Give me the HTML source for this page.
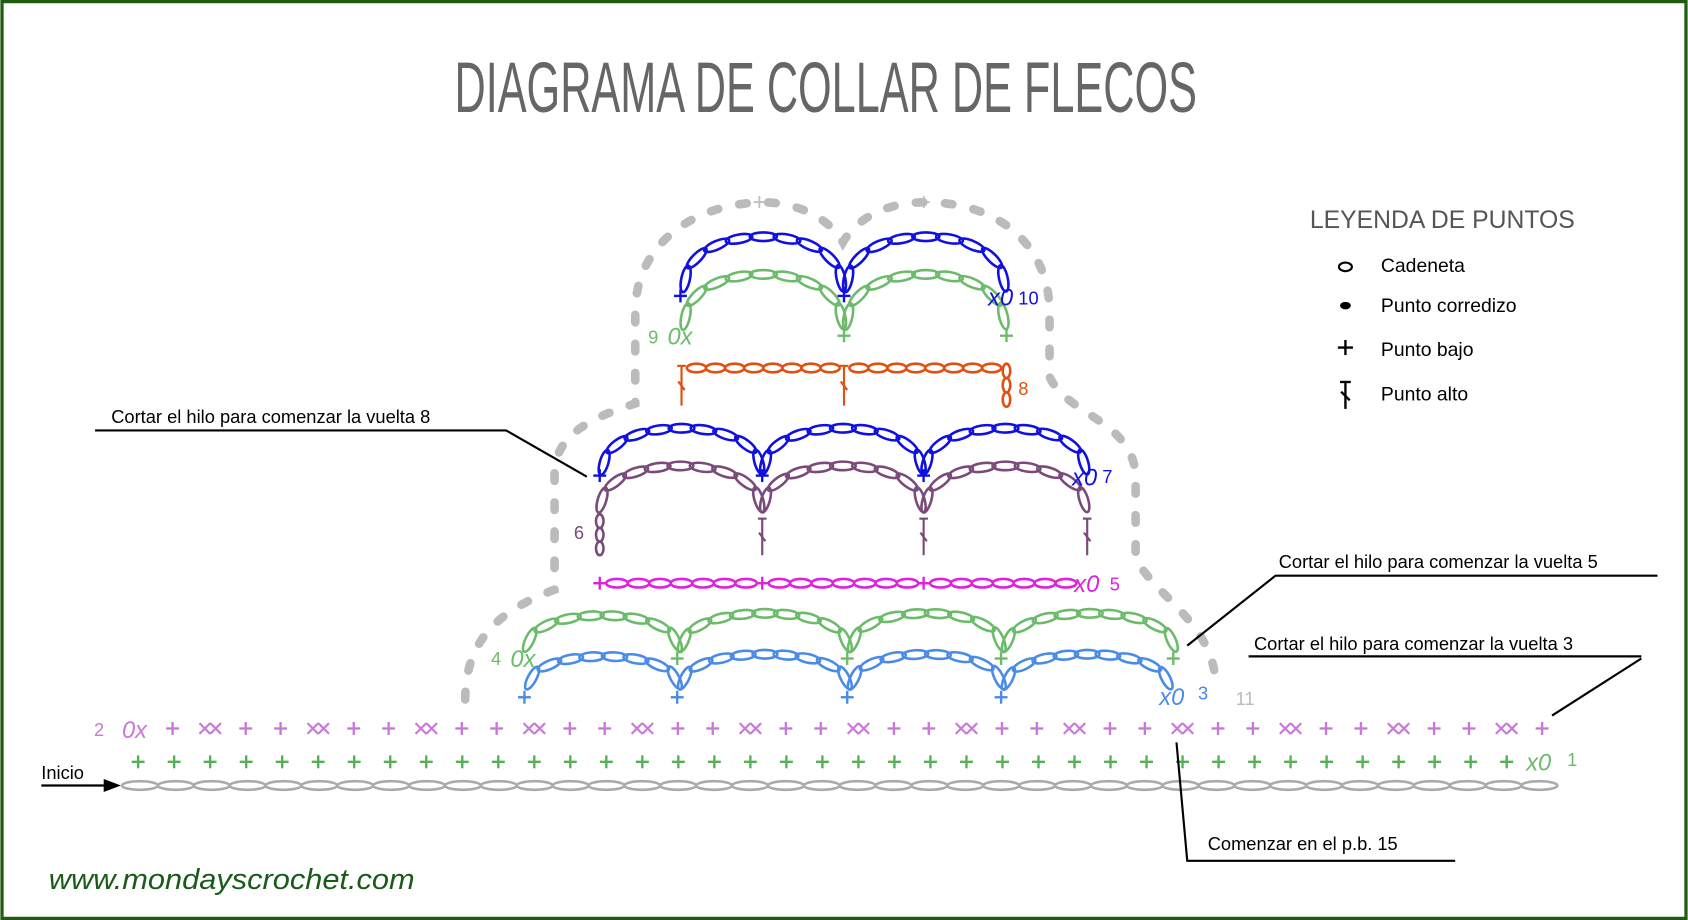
<!DOCTYPE html>
<html><head><meta charset="utf-8">
<style>
html,body{margin:0;padding:0;background:#fff;}
svg{display:block;}
text{font-family:"Liberation Sans",Arial,sans-serif;}
</style></head>
<body>
<svg id="s" width="1688" height="920" viewBox="0 0 1568 855" xmlns="http://www.w3.org/2000/svg">
<rect x="1.5" y="1.5" width="1565" height="852" fill="#fff" stroke="#1f5a10" stroke-width="3"/>
<text x="767" y="104" text-anchor="middle" font-size="66" fill="#666" font-family="Liberation Sans Narrow, Liberation Sans, sans-serif" textLength="690" lengthAdjust="spacingAndGlyphs">DIAGRAMA DE COLLAR DE FLECOS</text>

<path d="M432,650 C432,590 470,565 515,548 L515,440 C515,400 560,385 590,375 L590,290 C590,230 640,190 707,188 C750,188 775,210 783,225 C795,205 820,188 860,188 C930,188 975,230 975,290 L975,350 C990,385 1050,390 1055,440 L1055,520 C1080,560 1128,580 1130,640" fill="none" stroke="#bbb" stroke-width="8" stroke-linecap="round" stroke-dasharray="7 20"/>
<text x="699" y="195" font-size="22" fill="#bbb">+</text>
<text x="852" y="195" font-size="22" fill="#bbb">+</text>
<text x="1148" y="655" font-size="17" fill="#bbb">11</text>

<g id="g"></g>

<text x="87" y="684" font-size="17" fill="#c879d8">2</text>
<text x="1456" y="712" font-size="17" fill="#6bbb6b">1</text>
<text x="1113" y="650" font-size="17" fill="#4a8be8">3</text>
<text x="456" y="618" font-size="17" fill="#6bbb6b">4</text>
<text x="1031" y="549" font-size="17" fill="#e020e0">5</text>
<text x="533" y="501" font-size="17" fill="#7a4a7a">6</text>
<text x="1024" y="449" font-size="17" fill="#1010e0">7</text>
<text x="946" y="367" font-size="17" fill="#e05010">8</text>
<text x="602" y="319" font-size="17" fill="#6bbb6b">9</text>
<text x="946" y="283" font-size="17" fill="#1010e0">10</text>

<g stroke="#000" stroke-width="2" fill="none">
<polyline points="88,400 470,400 545,443"/>
<polyline points="1540,535 1185,535 1103,600"/>
<polyline points="1525,610 1160,610"/>
<line x1="1525" y1="612" x2="1442" y2="665"/>
<polyline points="1093,690 1103,800 1352,800"/>
<line x1="38" y1="730" x2="100" y2="730"/>
</g>
<polygon points="112,730 96,724 96,736" fill="#000"/>
<g font-size="17" fill="#000">
<text x="103" y="393">Cortar el hilo para comenzar la vuelta 8</text>
<text x="1188" y="528">Cortar el hilo para comenzar la vuelta 5</text>
<text x="1165" y="604">Cortar el hilo para comenzar la vuelta 3</text>
<text x="1122" y="790">Comenzar en el p.b. 15</text>
<text x="38" y="724">Inicio</text>
</g>

<text x="1217" y="212" font-size="23" fill="#555">LEYENDA DE PUNTOS</text>
<g font-size="18" fill="#000">
<text x="1283" y="253">Cadeneta</text>
<text x="1283" y="290">Punto corredizo</text>
<text x="1283" y="331">Punto bajo</text>
<text x="1283" y="372">Punto alto</text>
</g>
<ellipse cx="1250" cy="248" rx="6" ry="4" fill="none" stroke="#000" stroke-width="2"/>
<ellipse cx="1250" cy="284" rx="5" ry="3.5" fill="#000"/>
<g stroke="#000" stroke-width="2.2">
<line x1="1243" y1="323" x2="1257" y2="323"/><line x1="1250" y1="316" x2="1250" y2="330"/>
<line x1="1245" y1="355" x2="1255" y2="355"/><line x1="1250" y1="355" x2="1250" y2="380"/><line x1="1246" y1="364" x2="1254" y2="372"/>
</g>

<text x="45" y="826" font-size="27" fill="#1a5a1a" font-family="Liberation Mono, monospace" font-style="italic" textLength="340" lengthAdjust="spacingAndGlyphs">www.mondayscrochet.com</text>

<g font-style="italic" font-size="22">
<text x="1418" y="716" fill="#6bbb6b">x0</text>
<text x="113" y="686" fill="#c879d8">0x</text>
<text x="1077" y="655" fill="#4a8be8">x0</text>
<text x="474" y="620" fill="#6bbb6b">0x</text>
<text x="998" y="550" fill="#e020e0">x0</text>
<text x="996" y="451" fill="#1010e0">x0</text>
<text x="620" y="320" fill="#6bbb6b">0x</text>
<text x="918" y="284" fill="#1010e0">x0</text>
</g>
</svg>
<script>
var NS="http://www.w3.org/2000/svg",G=document.getElementById('g');
function el(t,a){var e=document.createElementNS(NS,t);for(var k in a)e.setAttribute(k,a[k]);G.appendChild(e);return e;}
function plus(x,y,c,s){s=s||6;el('line',{x1:x-s,y1:y,x2:x+s,y2:y,stroke:c,'stroke-width':2.2});el('line',{x1:x,y1:y-s,x2:x,y2:y+s,stroke:c,'stroke-width':2.2});}
function cross(x,y,c){var s=5;el('line',{x1:x-s,y1:y-s,x2:x+s,y2:y+s,stroke:c,'stroke-width':2});el('line',{x1:x-s,y1:y+s,x2:x+s,y2:y-s,stroke:c,'stroke-width':2});}
function oval(x,y,rx,ry,ang,c){el('ellipse',{cx:x,cy:y,rx:rx,ry:ry,fill:'none',stroke:c,'stroke-width':2.4,transform:'rotate('+ang+' '+x+' '+y+')'});}
function hchain(x1,x2,y,n,c,ry){var w=(x2-x1)/n;for(var i=0;i<n;i++)oval(x1+w*(i+.5),y,w/2,ry||4,0,c);}
function vchain(x,y1,y2,n,c){var h=(y2-y1)/n;for(var i=0;i<n;i++)oval(x,y1+h*(i+.5),h/2,3.5,90,c);}
function arc(x1,x2,yb,h,n,c){var cx=(x1+x2)/2,rx=(x2-x1)/2;
 var pts=[],N=400;for(var i=0;i<=N;i++){var t=Math.PI-Math.PI*i/N;pts.push([cx+rx*Math.cos(t),yb-h*Math.pow(Math.sin(t),0.8)]);}
 var L=[0];for(i=1;i<=N;i++)L.push(L[i-1]+Math.hypot(pts[i][0]-pts[i-1][0],pts[i][1]-pts[i-1][1]));
 var tot=L[N],seg=tot/n;
 for(var k=0;k<n;k++){var a=seg*k,b=seg*(k+1),m=(a+b)/2;
  var ia=0,ib=0,im=0;for(i=0;i<=N;i++){if(L[i]<=a)ia=i;if(L[i]<=b)ib=i;if(L[i]<=m)im=i;}
  var p=pts[ia],q=pts[ib],mm=pts[im];
  var ang=Math.atan2(q[1]-p[1],q[0]-p[0])*180/Math.PI;
  oval(mm[0],mm[1],seg/2+1.5,4,ang,c);}
}
function tall(x,y1,y2,c){el('line',{x1:x-4,y1:y1,x2:x+4,y2:y1,stroke:c,'stroke-width':2});el('line',{x1:x,y1:y1,x2:x,y2:y2,stroke:c,'stroke-width':2});el('line',{x1:x-3,y1:(y1+y2)/2-4,x2:x+3,y2:(y1+y2)/2+4,stroke:c,'stroke-width':2});}

hchain(113,1447,730,40,'#aaa',4);
for(var i=0;i<39;i++)plus(128+i*33.47,708,'#55b055');
var P='#c879d8';
for(i=0;i<13;i++){var b=160+i*100.4;plus(b,677,P);cross(b+30,677,P);cross(b+40,677,P);plus(b+68,677,P);}
var B3='#4a8be8';[487,629,787,930].forEach(function(x){plus(x,648,B3);});
arc(492,629,640,30,8,B3);arc(634,787,640,32,9,B3);arc(792,930,640,32,8,B3);arc(935,1085,640,32,9,B3);
var G4='#6bbb6b';[629,787,930,1090].forEach(function(x){plus(x,612,G4);});
arc(490,629,605,33,8,G4);arc(634,787,605,35,9,G4);arc(792,930,605,35,8,G4);arc(935,1090,605,35,9,G4);
var M='#e020e0';[557,708,858].forEach(function(x){plus(x,542,M);});
hchain(563,703,542,7,M,4);hchain(714,853,542,7,M,4);hchain(864,1000,542,7,M,4);
var P6='#7a4a7a';vchain(557,478,516,3,P6);
[708,858,1010].forEach(function(x){tall(x,482,516,P6);});
arc(558,706,475,42,9,P6);arc(710,856,475,42,9,P6);arc(860,1008,475,42,9,P6);
var B7='#1010e0';[557,708,858].forEach(function(x){plus(x,442,B7);});
arc(560,706,440,42,9,B7);arc(710,856,440,42,9,B7);arc(860,1008,440,42,9,B7);
var O='#e05010';tall(633,340,377,O);tall(784,340,377,O);
hchain(638,780,342,8,O,4);hchain(789,930,342,8,O,4);vchain(935,338,378,3,O);
[784,935].forEach(function(x){plus(x,312,G4);});
arc(636,782,305,50,9,G4);arc(787,933,305,50,9,G4);
[632,784].forEach(function(x){plus(x,275,B7);});
arc(636,782,270,50,9,B7);arc(787,933,270,50,9,B7);
</script>
</body></html>
